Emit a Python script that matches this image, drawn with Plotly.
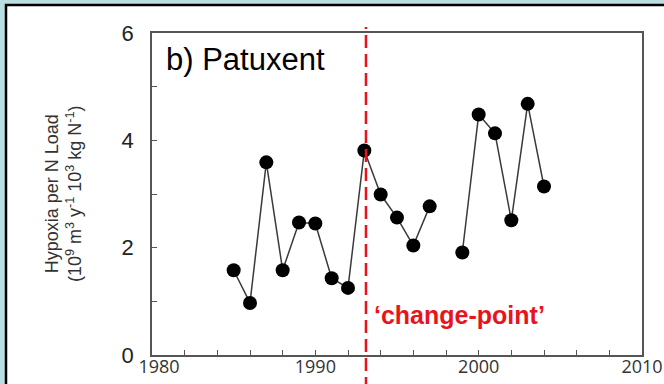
import plotly.graph_objects as go

years = [1985, 1986, 1987, 1988, 1989, 1990, 1991, 1992, 1993, 1994, 1995, 1996, 1997, 1998,
         1999, 2000, 2001, 2002, 2003, 2004]
hypoxia_per_n = [1.58, 0.97, 3.59, 1.58, 2.47, 2.45, 1.43, 1.25, 3.81, 2.99, 2.56, 2.04, 2.77, None,
                 1.91, 4.48, 4.13, 2.51, 4.68, 3.14]
change_point_year = 1993.1
x_tick_vals = [1980, 1990, 2000, 2010]
x_tick_text = ["\u00a0\u00a0\u00a01980", "1990", "2000", "2010"]
y_tick_vals = [0, 2, 4, 6]

fig = go.Figure()
fig.add_trace(go.Scatter(
    x=years, y=hypoxia_per_n, mode="lines+markers", connectgaps=False,
    line=dict(color="#3a3a3a", width=1.5),
    marker=dict(color="black", size=14),
    showlegend=False, cliponaxis=False,
))

W, H = 664, 384
L, R, T, B = 152, 22, 33, 29
pw, ph = W - L - R, H - T - B

def px_x(p):
    return (p - L) / pw

def px_y(p):
    return (H - B - p) / ph

fig.add_shape(type="rect", xref="paper", yref="paper",
              x0=px_x(6), x1=px_x(700), y0=px_y(5), y1=px_y(420),
              fillcolor="white", line=dict(color="black", width=2.5), layer="below")

fig.add_shape(type="line", xref="x", yref="paper",
              x0=change_point_year, x1=change_point_year, y0=px_y(390), y1=px_y(27),
              line=dict(color="#e8141c", width=2.5, dash="13px,6px"), layer="above")

fig.add_annotation(x=1980.75, y=5.5, xref="x", yref="y", text="b) Patuxent",
                   showarrow=False, xanchor="left", yanchor="middle",
                   font=dict(family="Arial, Liberation Sans", size=31, color="black"))
fig.add_annotation(x=1993.45, y=0.74, xref="x", yref="y", text="<b>\u2018change-point\u2019</b>",
                   showarrow=False, xanchor="left", yanchor="middle",
                   font=dict(family="Arial, Liberation Sans", size=25, color="#e8141c"))
fig.add_annotation(x=px_x(63), y=0.5, xref="paper", yref="paper",
                   text="Hypoxia per N Load<br>(10<sup>9</sup> m<sup>3</sup> y<sup>-1</sup> 10<sup>3</sup> kg N<sup>-1</sup>)",
                   textangle=-90, showarrow=False, xanchor="center", yanchor="middle",
                   font=dict(family="Arial, Liberation Sans", size=18, color="#333333"))

fig.update_xaxes(range=[1980, 2010], tickvals=x_tick_vals, ticktext=x_tick_text,
                 automargin=False, ticklabeloverflow="allow",
                 showgrid=False, zeroline=False, showline=True, linecolor="#555555", linewidth=1.5,
                 mirror=True, ticks="inside", ticklen=5, tickcolor="#555555", tickwidth=1.2,
                 minor=dict(dtick=2, tick0=1980, ticks="inside", ticklen=5, tickcolor="#555555", tickwidth=1.2),
                 ticklabelstandoff=-5,
                 tickfont=dict(family="Open Sans, Liberation Sans", size=18, color="#333333"))
fig.update_yaxes(range=[0, 6], tickvals=y_tick_vals,
                 automargin=False, ticklabeloverflow="allow",
                 showgrid=False, zeroline=False, showline=True, linecolor="#555555", linewidth=1.5,
                 mirror=True, ticks="inside", ticklen=5, tickcolor="#555555", tickwidth=1.2,
                 minor=dict(dtick=1, tick0=0, ticks="inside", ticklen=5, tickcolor="#555555", tickwidth=1.2),
                 ticklabelstandoff=12,
                 tickfont=dict(family="Arial, Liberation Sans", size=22, color="#222222"))

fig.update_layout(width=W, height=H, margin=dict(l=L, r=R, t=T, b=B),
                  paper_bgcolor="#b9dfe1", plot_bgcolor="rgba(0,0,0,0)")

fig.write_html("out.html")
